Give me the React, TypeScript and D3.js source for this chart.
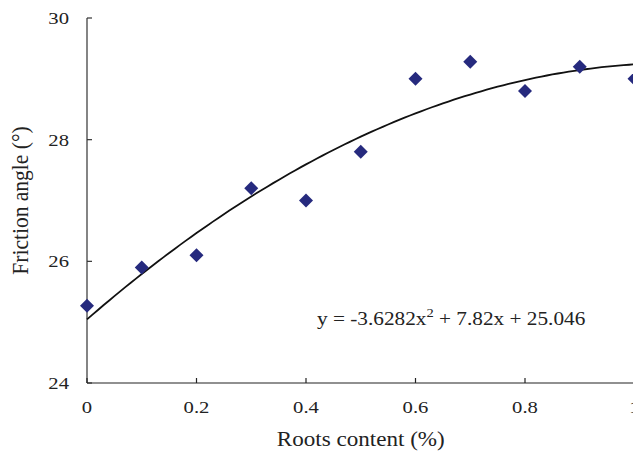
import React from "react";
import * as d3 from "d3";

const rootsContent = [0, 0.1, 0.2, 0.3, 0.4, 0.5, 0.6, 0.7, 0.8, 0.9, 1.0];
const frictionAngle = [25.27, 25.9, 26.1, 27.2, 27.0, 27.8, 29.0, 29.28, 28.8, 29.2, 29.0];
const xTicks = [0, 0.2, 0.4, 0.6, 0.8, 1];
const xTickLabels = ["0", "0.2", "0.4", "0.6", "0.8", "1"];
const yTicks = [24, 26, 28, 30];
const fitCoeffs = [-3.6282, 7.82, 25.046];

const W = 633;
const H = 454;
const FONT = "'Liberation Serif', 'Times New Roman', serif";

function SText({
  x,
  y,
  sx = 1,
  anchor = "start",
  size,
  children,
  dy,
}: {
  x: number;
  y: number;
  sx?: number;
  anchor?: string;
  size: number;
  children: React.ReactNode;
  dy?: string;
}) {
  return (
    <text
      transform={`translate(${x},${y}) scale(${sx},1)`}
      textAnchor={anchor}
      dy={dy}
      fontFamily={FONT}
      fontSize={size}
      fill="#222"
    >
      {children}
    </text>
  );
}

export default function App() {
  const x = d3.scaleLinear().domain([0, 1]).range([87, 634.5]);
  const y = d3.scaleLinear().domain([24, 30]).range([383, 18]);

  const curveX = d3.range(0, 1.0001, 0.01);
  const line = d3
    .line<number>()
    .x((d) => x(d))
    .y((d) => y(fitCoeffs[0] * d * d + fitCoeffs[1] * d + fitCoeffs[2]))
    .curve(d3.curveMonotoneX);

  const diamond = (cx: number, cy: number, r: number) =>
    `M${cx},${cy - r}L${cx + r},${cy}L${cx},${cy + r}L${cx - r},${cy}Z`;

  return (
    <svg
      width={W}
      height={H}
      style={{ position: "absolute", left: 0, top: 0, background: "#fff" }}
    >
      <rect width={W} height={H} fill="#fff" />
      {/* axes */}
      <line x1={x(0)} x2={x(0)} y1={y(30)} y2={y(24)} stroke="#333" strokeWidth={1.2} />
      <line x1={x(0)} x2={x(1)} y1={y(24)} y2={y(24)} stroke="#222" strokeWidth={1.2} />
      {yTicks.map((t) => (
        <g key={"y" + t}>
          <line x1={x(0)} x2={x(0) + 5} y1={y(t)} y2={y(t)} stroke="#333" strokeWidth={1.2} />
          <SText x={69} y={y(t)} dy="0.35em" anchor="end" size={17.5} sx={1.18}>
            {t}
          </SText>
        </g>
      ))}
      {xTicks.map((t, i) => (
        <g key={"x" + t}>
          <line x1={x(t)} x2={x(t)} y1={y(24)} y2={y(24) - 5} stroke="#222" strokeWidth={1.2} />
          <SText x={x(t)} y={413} anchor="middle" size={17.5} sx={1.18}>
            {xTickLabels[i]}
          </SText>
        </g>
      ))}
      {/* fit curve */}
      <path d={line(curveX) || ""} fill="none" stroke="#111" strokeWidth={1.8} />
      {/* points */}
      {rootsContent.map((rc, i) => (
        <path key={"p" + i} d={diamond(x(rc), y(frictionAngle[i]), 7)} fill="#262a7e" />
      ))}
      {/* equation */}
      <SText x={317} y={325} size={19} sx={1.12}>
        y = -3.6282x
        <tspan dy={-8} fontSize={13}>2</tspan>
        <tspan dy={8}> + 7.82x + 25.046</tspan>
      </SText>
      {/* axis titles */}
      <SText x={(x(0) + x(1)) / 2} y={446} anchor="middle" size={21} sx={1.1}>
        Roots content (%)
      </SText>
      <text
        transform={`translate(28,${(y(24) + y(30)) / 2}) rotate(-90) scale(1,1.1)`}
        textAnchor="middle"
        fontFamily={FONT}
        fontSize={21.5}
        fill="#222"
      >
        Friction angle (°)
      </text>
    </svg>
  );
}
